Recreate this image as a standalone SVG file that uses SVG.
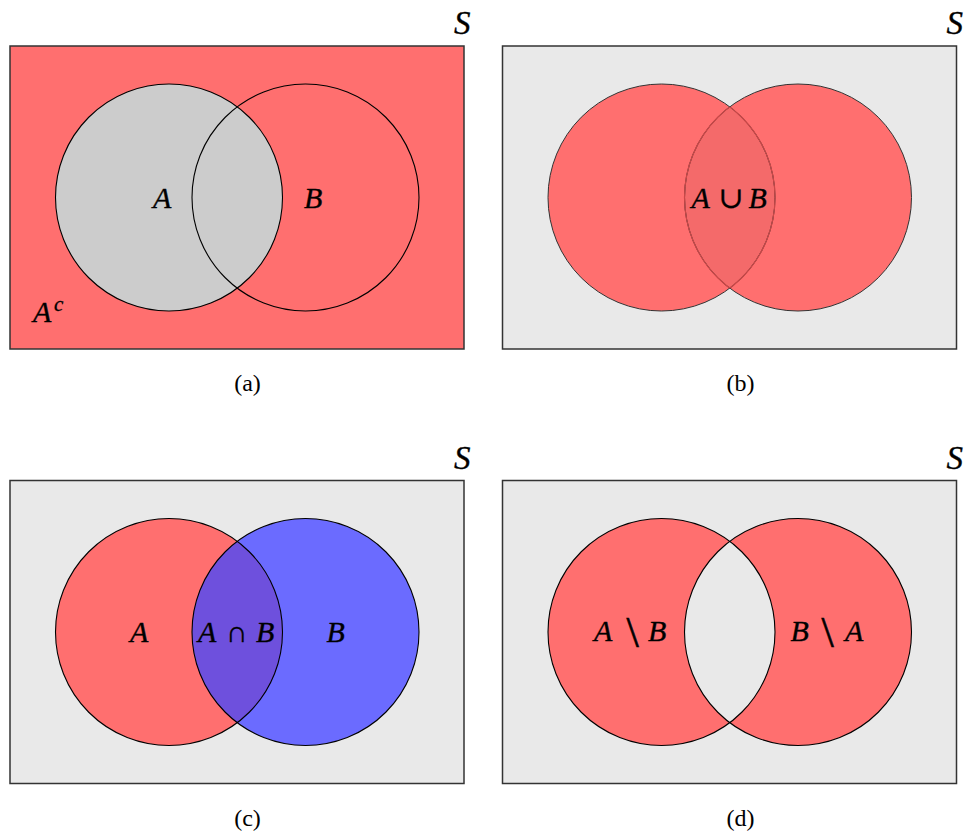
<svg xmlns="http://www.w3.org/2000/svg" xmlns:xlink="http://www.w3.org/1999/xlink" width="969" height="834" viewBox="0 0 969 834">
<style>
.frame{stroke:#333;stroke-width:1.5}
.edge{fill:none;stroke:#000;stroke-width:1.1}
.lbl{font-family:"Liberation Serif","Times New Roman","DejaVu Serif",serif;font-style:italic;font-size:30px;fill:#000;stroke:#000;stroke-width:0.35}
.s{font-size:33px}
.op{font-style:normal}
.bs{font-style:normal;font-size:44px;stroke-width:0.6}
.cap{font-family:"Liberation Serif","Times New Roman",serif;font-size:24px;fill:#000;text-anchor:middle}
.red{fill:#ff6f6f}
.gray{fill:#e9e9e9}
</style>
<defs>
<circle id="cA" cx="169" cy="197.5" r="113.5"/>
<circle id="cB" cx="305.5" cy="197.5" r="113.5"/>
<path id="lens" d="M237.25 106.81A113.5 113.5 0 0 1 237.25 288.19A113.5 113.5 0 0 1 237.25 106.81Z"/>
<clipPath id="clipA"><circle cx="169" cy="197.5" r="113.5"/></clipPath>
<clipPath id="clipB"><circle cx="305.5" cy="197.5" r="113.5"/></clipPath>
</defs>

<g id="panel-a">
<rect class="frame red" x="10" y="46" width="454" height="303"/>
<use xlink:href="#cA" fill="#cccccc"/>
<use xlink:href="#cA" class="edge"/>
<use xlink:href="#cB" class="edge"/>
<text class="lbl" x="153" y="207.5">A</text>
<text class="lbl" x="304" y="207.5">B</text>
<text class="lbl" x="33" y="322">A<tspan font-size="21" x="54" y="311">c</tspan></text>
<text class="lbl s" x="454" y="34">S</text>
<text class="cap" x="247.5" y="391">(a)</text>
</g>

<g id="panel-b" transform="translate(492.5,0)">
<rect class="frame gray" x="10" y="46" width="454" height="303"/>
<use xlink:href="#cA" class="red"/>
<use xlink:href="#cB" class="red"/>
<use xlink:href="#lens" fill="#f46a6a"/>
<use xlink:href="#cA" fill="none" stroke="#333" stroke-width="1"/>
<use xlink:href="#cB" fill="none" stroke="#333" stroke-width="1"/>
<g clip-path="url(#clipB)"><use xlink:href="#cA" fill="none" stroke="#c84848" stroke-width="1.2"/></g>
<g clip-path="url(#clipA)"><use xlink:href="#cB" fill="none" stroke="#c84848" stroke-width="1.2"/></g>
<text class="lbl" y="208"><tspan x="199">A</tspan><tspan class="op" x="226">∪</tspan><tspan x="256">B</tspan></text>
<text class="lbl s" x="454" y="34">S</text>
<text class="cap" x="248" y="391">(b)</text>
</g>

<g id="panel-c" transform="translate(0,434.5)">
<rect class="frame gray" x="10" y="46" width="454" height="303"/>
<use xlink:href="#cA" class="red"/>
<use xlink:href="#cB" fill="#6b6bff"/>
<use xlink:href="#lens" fill="#6e50dd"/>
<use xlink:href="#cA" class="edge"/>
<use xlink:href="#cB" class="edge"/>
<text class="lbl" x="130" y="207.5">A</text>
<text class="lbl" y="207.5"><tspan x="198">A</tspan><tspan class="op" x="226">∩</tspan><tspan x="256">B</tspan></text>
<text class="lbl" x="326.5" y="207.5">B</text>
<text class="lbl s" x="454" y="34">S</text>
<text class="cap" x="247.5" y="391">(c)</text>
</g>

<g id="panel-d" transform="translate(492.5,434.5)">
<rect class="frame gray" x="10" y="46" width="454" height="303"/>
<use xlink:href="#cA" class="red"/>
<use xlink:href="#cB" class="red"/>
<use xlink:href="#lens" class="gray"/>
<use xlink:href="#cA" class="edge"/>
<use xlink:href="#cB" class="edge"/>
<text class="lbl" y="206.5"><tspan x="101.5">A</tspan><tspan class="bs" x="134" dy="6">\</tspan><tspan x="155.5" dy="-6">B</tspan></text>
<text class="lbl" y="206.5"><tspan x="298">B</tspan><tspan class="bs" x="329" dy="6">\</tspan><tspan x="352.5" dy="-6">A</tspan></text>
<text class="lbl s" x="454" y="34">S</text>
<text class="cap" x="248" y="391">(d)</text>
</g>
</svg>
